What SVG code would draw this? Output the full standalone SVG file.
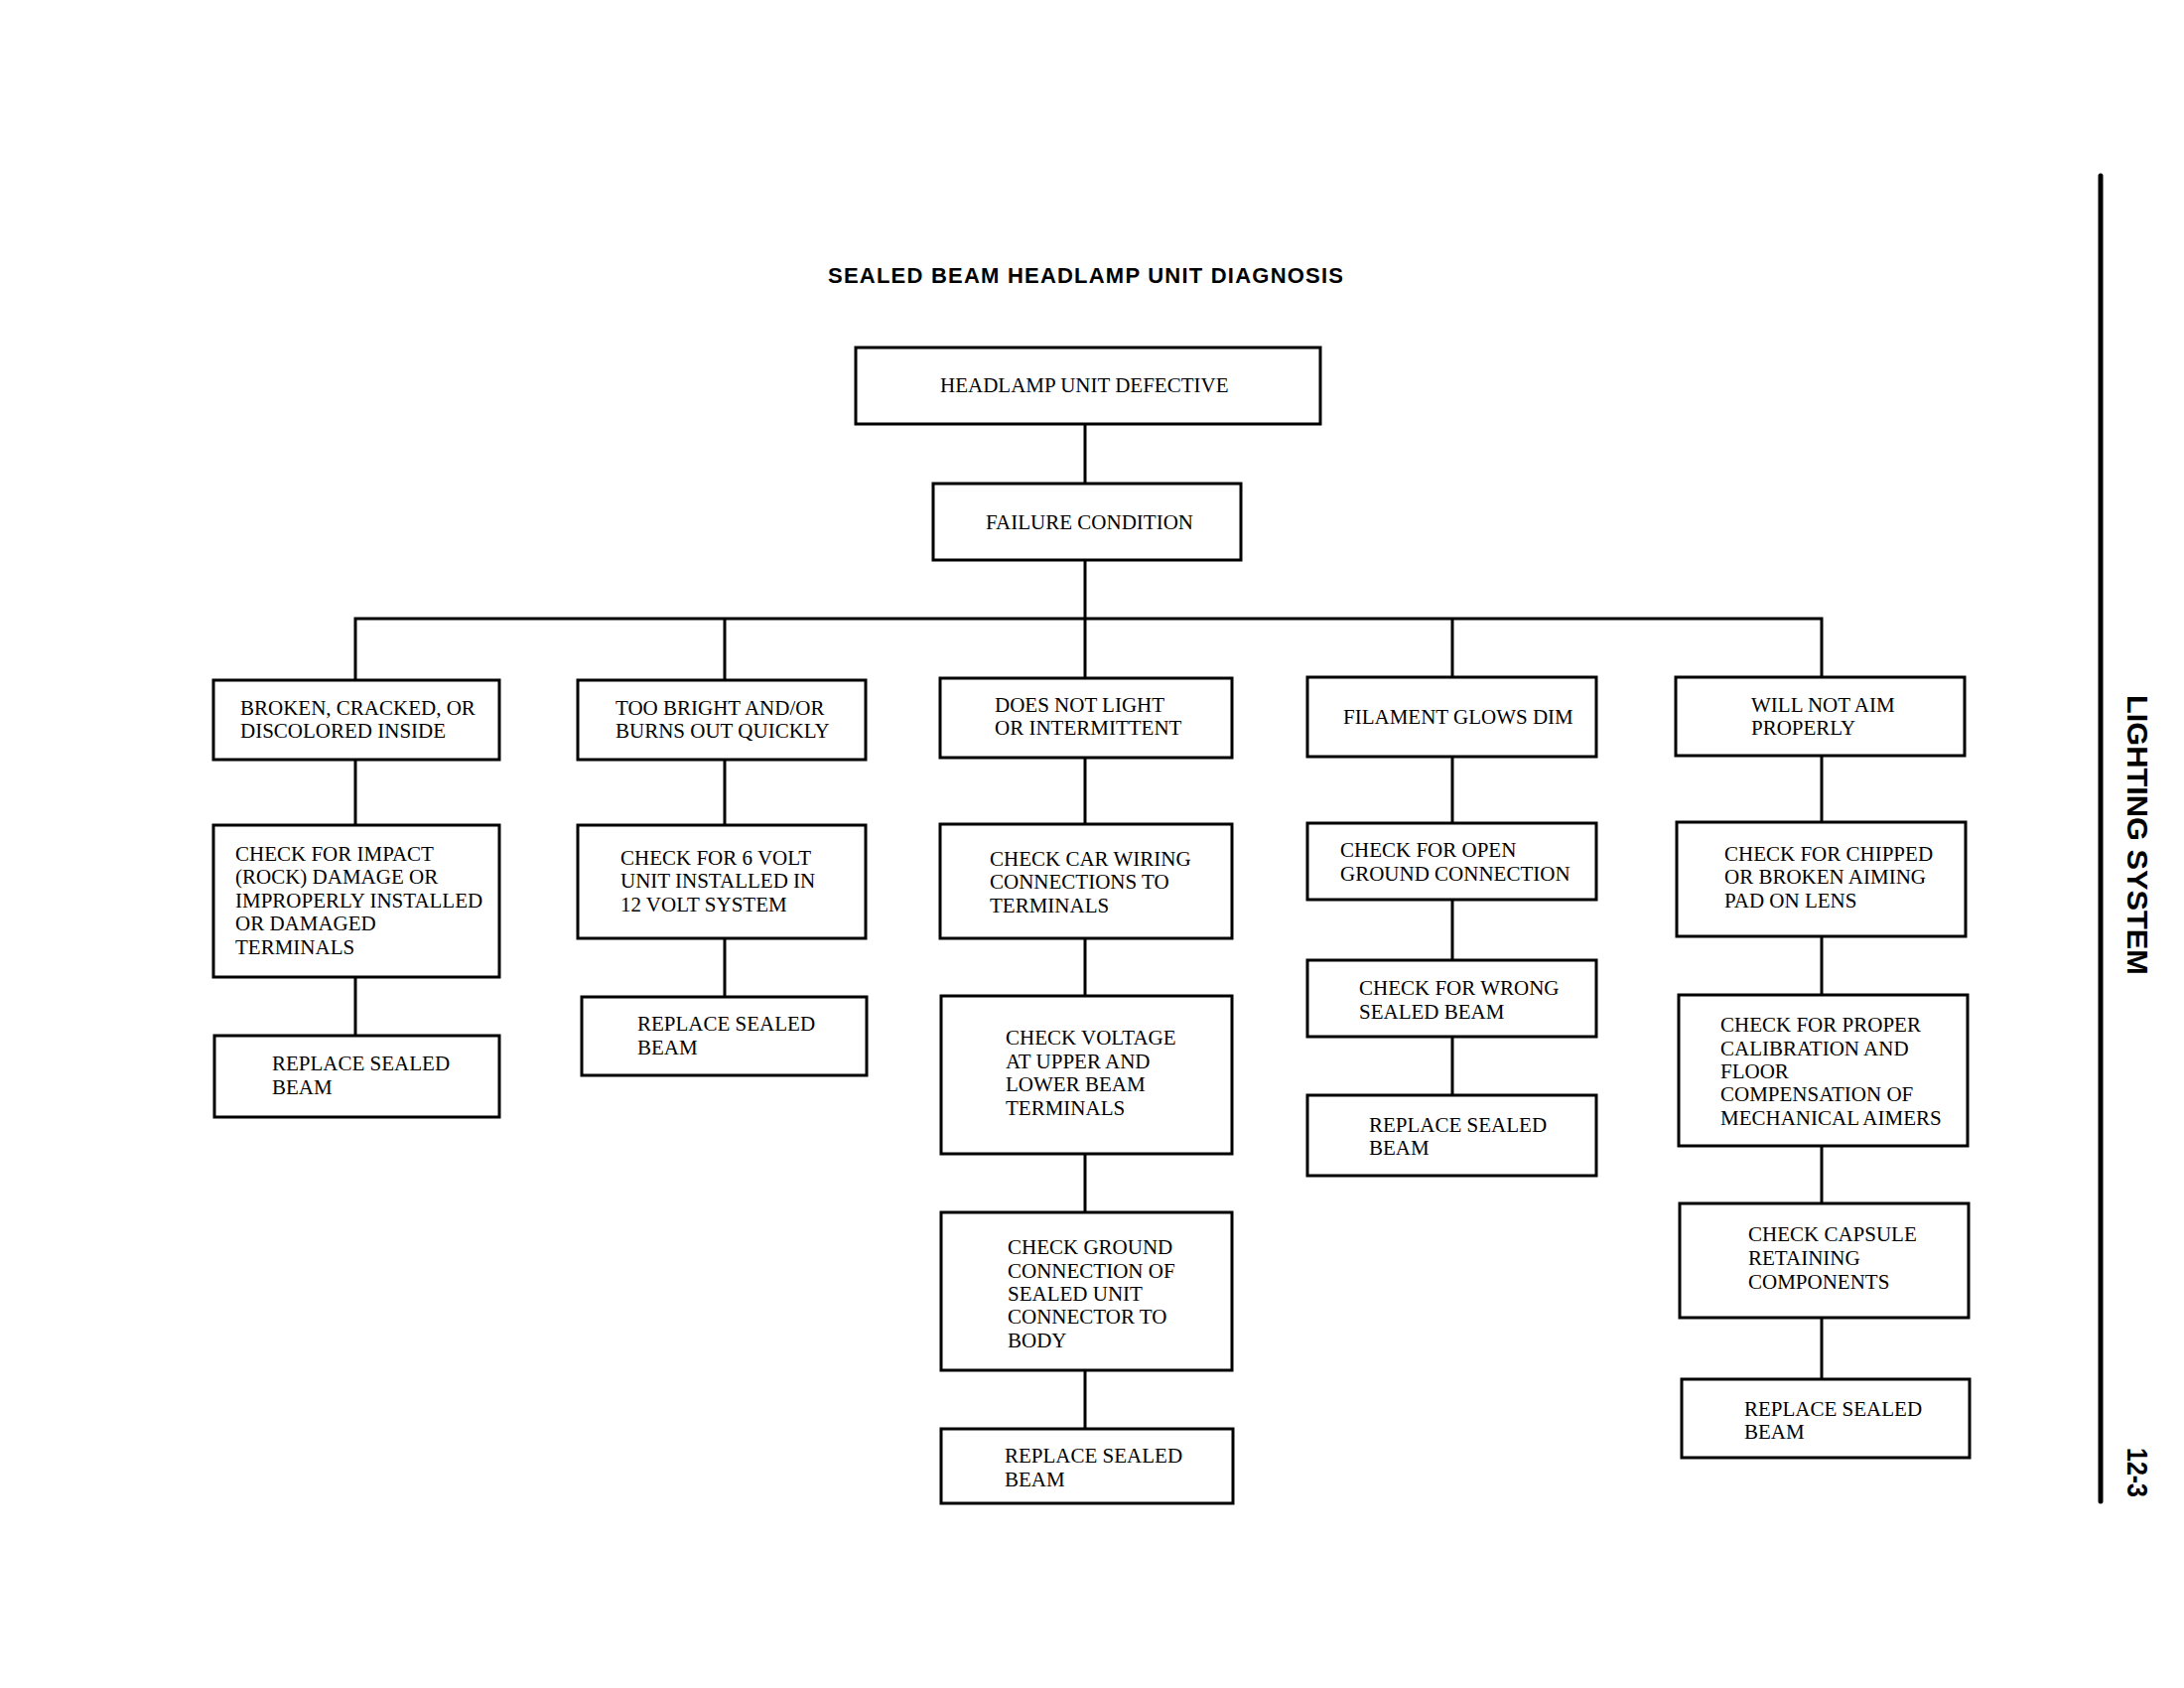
<svg xmlns="http://www.w3.org/2000/svg" width="2200" height="1700" viewBox="0 0 2200 1700">
<style>
.box{fill:#fff;stroke:#000;stroke-width:3}
.conn{fill:none;stroke:#000;stroke-width:3}
.t{font-family:"Liberation Serif","Times New Roman",serif;font-size:21px;fill:#000}
.title{font-family:"Liberation Sans",Arial,sans-serif;font-weight:bold;font-size:22px;fill:#000}
.side{font-family:"Liberation Sans",Arial,sans-serif;font-weight:bold;font-size:30px;fill:#000}
</style>
<rect width="2200" height="1700" fill="#fff"/>
<text class="title" x="834" y="285" textLength="519" lengthAdjust="spacing">SEALED BEAM HEADLAMP UNIT DIAGNOSIS</text>

<g id="connectors">
<line class="conn" x1="1093" y1="427" x2="1093" y2="487"/>
<line class="conn" x1="1093" y1="564" x2="1093" y2="623"/>
<path class="conn" d="M358,685 V623 H1835 V682"/>
<line class="conn" x1="730" y1="623" x2="730" y2="685"/>
<line class="conn" x1="1093" y1="623" x2="1093" y2="683"/>
<line class="conn" x1="1463" y1="623" x2="1463" y2="682"/>
<line class="conn" x1="358" y1="765" x2="358" y2="831"/>
<line class="conn" x1="358" y1="984" x2="358" y2="1043"/>
<line class="conn" x1="730" y1="765" x2="730" y2="831"/>
<line class="conn" x1="730" y1="945" x2="730" y2="1004"/>
<line class="conn" x1="1093" y1="763" x2="1093" y2="830"/>
<line class="conn" x1="1093" y1="945" x2="1093" y2="1003"/>
<line class="conn" x1="1093" y1="1162" x2="1093" y2="1221"/>
<line class="conn" x1="1093" y1="1380" x2="1093" y2="1439"/>
<line class="conn" x1="1463" y1="762" x2="1463" y2="829"/>
<line class="conn" x1="1463" y1="906" x2="1463" y2="967"/>
<line class="conn" x1="1463" y1="1044" x2="1463" y2="1103"/>
<line class="conn" x1="1835" y1="761" x2="1835" y2="828"/>
<line class="conn" x1="1835" y1="943" x2="1835" y2="1002"/>
<line class="conn" x1="1835" y1="1154" x2="1835" y2="1212"/>
<line class="conn" x1="1835" y1="1327" x2="1835" y2="1389"/>
</g>

<g id="headlamp-defective">
<rect class="box" x="862" y="350" width="468" height="77"/>
<text class="t" x="947" y="395">HEADLAMP UNIT DEFECTIVE</text>
</g>
<g id="failure-condition">
<rect class="box" x="940" y="487" width="310" height="77"/>
<text class="t" x="993" y="533">FAILURE CONDITION</text>
</g>

<g id="broken-cracked">
<rect class="box" x="215" y="685" width="288" height="80"/>
<text class="t" x="242" y="720">BROKEN, CRACKED, OR</text>
<text class="t" x="242" y="743">DISCOLORED INSIDE</text>
</g>
<g id="check-impact">
<rect class="box" x="215" y="831" width="288" height="153"/>
<text class="t" x="237" y="867">CHECK FOR IMPACT</text>
<text class="t" x="237" y="890">(ROCK) DAMAGE OR</text>
<text class="t" x="237" y="914">IMPROPERLY INSTALLED</text>
<text class="t" x="237" y="937">OR DAMAGED</text>
<text class="t" x="237" y="961">TERMINALS</text>
</g>
<g id="replace-1">
<rect class="box" x="216" y="1043" width="287" height="82"/>
<text class="t" x="274" y="1078">REPLACE SEALED</text>
<text class="t" x="274" y="1102">BEAM</text>
</g>

<g id="too-bright">
<rect class="box" x="582" y="685" width="290" height="80"/>
<text class="t" x="620" y="720">TOO BRIGHT AND/OR</text>
<text class="t" x="620" y="743">BURNS OUT QUICKLY</text>
</g>
<g id="check-6-volt">
<rect class="box" x="582" y="831" width="290" height="114"/>
<text class="t" x="625" y="871">CHECK FOR 6 VOLT</text>
<text class="t" x="625" y="894">UNIT INSTALLED IN</text>
<text class="t" x="625" y="918">12 VOLT SYSTEM</text>
</g>
<g id="replace-2">
<rect class="box" x="586" y="1004" width="287" height="79"/>
<text class="t" x="642" y="1038">REPLACE SEALED</text>
<text class="t" x="642" y="1062">BEAM</text>
</g>

<g id="does-not-light">
<rect class="box" x="947" y="683" width="294" height="80"/>
<text class="t" x="1002" y="717">DOES NOT LIGHT</text>
<text class="t" x="1002" y="740">OR INTERMITTENT</text>
</g>
<g id="check-car-wiring">
<rect class="box" x="947" y="830" width="294" height="115"/>
<text class="t" x="997" y="872">CHECK CAR WIRING</text>
<text class="t" x="997" y="895">CONNECTIONS TO</text>
<text class="t" x="997" y="919">TERMINALS</text>
</g>
<g id="check-voltage">
<rect class="box" x="948" y="1003" width="293" height="159"/>
<text class="t" x="1013" y="1052">CHECK VOLTAGE</text>
<text class="t" x="1013" y="1076">AT UPPER AND</text>
<text class="t" x="1013" y="1099">LOWER BEAM</text>
<text class="t" x="1013" y="1123">TERMINALS</text>
</g>
<g id="check-ground">
<rect class="box" x="948" y="1221" width="293" height="159"/>
<text class="t" x="1015" y="1263">CHECK GROUND</text>
<text class="t" x="1015" y="1287">CONNECTION OF</text>
<text class="t" x="1015" y="1310">SEALED UNIT</text>
<text class="t" x="1015" y="1333">CONNECTOR TO</text>
<text class="t" x="1015" y="1357">BODY</text>
</g>
<g id="replace-3">
<rect class="box" x="948" y="1439" width="294" height="75"/>
<text class="t" x="1012" y="1473">REPLACE SEALED</text>
<text class="t" x="1012" y="1497">BEAM</text>
</g>

<g id="filament-dim">
<rect class="box" x="1317" y="682" width="291" height="80"/>
<text class="t" x="1353" y="729">FILAMENT GLOWS DIM</text>
</g>
<g id="check-open-ground">
<rect class="box" x="1317" y="829" width="291" height="77"/>
<text class="t" x="1350" y="863">CHECK FOR OPEN</text>
<text class="t" x="1350" y="887">GROUND CONNECTION</text>
</g>
<g id="check-wrong-beam">
<rect class="box" x="1317" y="967" width="291" height="77"/>
<text class="t" x="1369" y="1002">CHECK FOR WRONG</text>
<text class="t" x="1369" y="1026">SEALED BEAM</text>
</g>
<g id="replace-4">
<rect class="box" x="1317" y="1103" width="291" height="81"/>
<text class="t" x="1379" y="1140">REPLACE SEALED</text>
<text class="t" x="1379" y="1163">BEAM</text>
</g>

<g id="will-not-aim">
<rect class="box" x="1688" y="682" width="291" height="79"/>
<text class="t" x="1764" y="717">WILL NOT AIM</text>
<text class="t" x="1764" y="740">PROPERLY</text>
</g>
<g id="check-chipped">
<rect class="box" x="1689" y="828" width="291" height="115"/>
<text class="t" x="1737" y="867">CHECK FOR CHIPPED</text>
<text class="t" x="1737" y="890">OR BROKEN AIMING</text>
<text class="t" x="1737" y="914">PAD ON LENS</text>
</g>
<g id="check-calibration">
<rect class="box" x="1691" y="1002" width="291" height="152"/>
<text class="t" x="1733" y="1039">CHECK FOR PROPER</text>
<text class="t" x="1733" y="1063">CALIBRATION AND</text>
<text class="t" x="1733" y="1086">FLOOR</text>
<text class="t" x="1733" y="1109">COMPENSATION OF</text>
<text class="t" x="1733" y="1133">MECHANICAL AIMERS</text>
</g>
<g id="check-capsule">
<rect class="box" x="1692" y="1212" width="291" height="115"/>
<text class="t" x="1761" y="1250">CHECK CAPSULE</text>
<text class="t" x="1761" y="1274">RETAINING</text>
<text class="t" x="1761" y="1298">COMPONENTS</text>
</g>
<g id="replace-5">
<rect class="box" x="1694" y="1389" width="290" height="79"/>
<text class="t" x="1757" y="1426">REPLACE SEALED</text>
<text class="t" x="1757" y="1449">BEAM</text>
</g>

<line x1="2116" y1="177" x2="2116" y2="1512" stroke="#000" stroke-width="5" stroke-linecap="round"/>
<text class="side" transform="translate(2143,700) rotate(90)" textLength="282" lengthAdjust="spacingAndGlyphs">LIGHTING SYSTEM</text>
<text class="side" transform="translate(2143,1458) rotate(90)" textLength="50" lengthAdjust="spacingAndGlyphs">12-3</text>
</svg>
